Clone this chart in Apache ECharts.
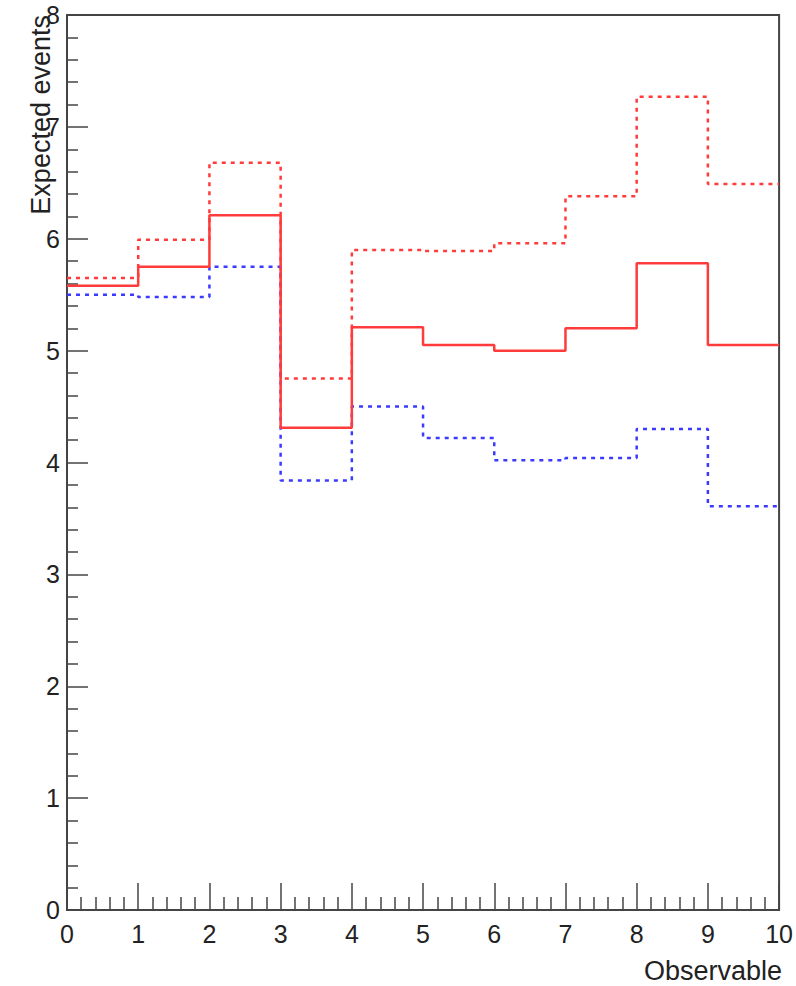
<!DOCTYPE html>
<html>
<head>
<meta charset="utf-8">
<script src="https://cdn.jsdelivr.net/npm/echarts@6/dist/echarts.min.js"></script>
<style>
html,body{margin:0;padding:0;background:#fff;}
#chart{width:796px;height:986px;}
</style>
</head>
<body>
<div id="chart"></div>
<script>
// Bin edges of the histogram (Observable)
var binEdges = [0, 1, 2, 3, 4, 5, 6, 7, 8, 9, 10];
// Solid red histogram
var redSolid = [5.58, 5.75, 6.21, 4.31, 5.21, 5.05, 5.00, 5.20, 5.78, 5.05];
// Dotted red histogram
var redDotted = [5.65, 5.99, 6.68, 4.75, 5.90, 5.89, 5.96, 6.38, 7.27, 6.49];
// Dotted blue histogram
var blueDotted = [5.50, 5.48, 5.75, 3.84, 4.50, 4.22, 4.02, 4.04, 4.30, 3.61];
// Axis tick labels
var xTicks = [0, 1, 2, 3, 4, 5, 6, 7, 8, 9, 10];
var yTicks = [0, 1, 2, 3, 4, 5, 6, 7, 8];
var xTitle = 'Observable';
var yTitle = 'Expected events';

function stepPoints(vals) {
  var pts = [];
  for (var i = 0; i < vals.length; i++) {
    pts.push([binEdges[i], vals[i]]);
    pts.push([binEdges[i + 1], vals[i]]);
  }
  return pts;
}

var FONT = '"Liberation Sans", Arial, Helvetica, sans-serif';
var axisCol = '#444';

var chart = echarts.init(document.getElementById('chart'), null, {renderer: 'svg'});
chart.setOption({
  animation: false,
  backgroundColor: '#ffffff',
  grid: {left: 67, right: 14, top: 15, bottom: 76, show: true, borderColor: axisCol, borderWidth: 2, backgroundColor: 'transparent'},
  xAxis: {
    type: 'value', min: xTicks[0], max: xTicks[xTicks.length - 1], interval: 1,
    axisLine: {show: true, lineStyle: {color: axisCol, width: 2}},
    axisTick: {show: true, inside: true, length: 27, lineStyle: {color: axisCol, width: 1.5}},
    minorTick: {show: true, splitNumber: 5, length: 13, lineStyle: {color: axisCol, width: 1.5}},
    splitLine: {show: false},
    axisLabel: {color: '#222', fontSize: 25, fontFamily: FONT, margin: 11}
  },
  yAxis: {
    type: 'value', min: yTicks[0], max: yTicks[yTicks.length - 1], interval: 1,
    axisLine: {show: true, lineStyle: {color: axisCol, width: 2}},
    axisTick: {show: true, inside: true, length: 21, lineStyle: {color: axisCol, width: 1.5}},
    minorTick: {show: true, splitNumber: 5, length: 11, lineStyle: {color: axisCol, width: 1.5}},
    splitLine: {show: false},
    axisLabel: {color: '#222', fontSize: 25, fontFamily: FONT, margin: 7}
  },
  graphic: [
    {type: 'text', right: 14, top: 957, style: {text: xTitle, font: '27px ' + FONT, fill: '#222'}},
    {type: 'text', x: 27, y: 15, rotation: Math.PI / 2, style: {text: yTitle, font: '27px ' + FONT, fill: '#222', align: 'right', verticalAlign: 'top'}}
  ],
  series: [
    {type: 'line', data: stepPoints(redDotted), symbol: 'none', clip: true,
     lineStyle: {color: '#ff3b3b', width: 2.5, type: [4, 5]}},
    {type: 'line', data: stepPoints(blueDotted), symbol: 'none', clip: true,
     lineStyle: {color: '#3b3bff', width: 2.5, type: [4, 5]}},
    {type: 'line', data: stepPoints(redSolid), symbol: 'none', clip: true,
     lineStyle: {color: '#ff3b3b', width: 2.5}}
  ]
});
</script>
</body>
</html>
